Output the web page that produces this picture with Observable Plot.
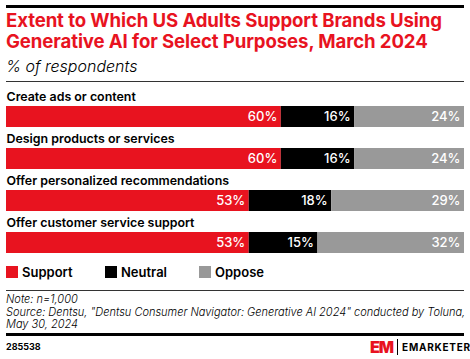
<!DOCTYPE html>
<html><head><meta charset="utf-8">
<script src="https://cdn.jsdelivr.net/npm/d3@7"></script>
<script src="https://cdn.jsdelivr.net/npm/@observablehq/plot@0.6"></script>
<style>
html,body{margin:0;padding:0;background:#fff;}
body{width:470px;height:359px;overflow:hidden;font-family:Inter,"Noto Sans",sans-serif;color:#000;position:relative;}
#top{position:absolute;left:6px;top:5px;width:458px;height:3px;background:#000;}
#title{position:absolute;left:6px;top:10px;width:462px;font-weight:700;font-size:18.6px;line-height:21px;color:#e8131f;letter-spacing:-0.1px;}
#sub{position:absolute;left:6px;top:56px;font-style:italic;font-size:16px;font-weight:300;}
#rule1{position:absolute;left:6px;top:81px;width:458px;height:1px;background:#333;}
#chart{position:absolute;left:0;top:84px;}
#legend{position:absolute;left:6px;top:264px;font-size:13px;font-weight:600;}
.li{position:absolute;top:0;white-space:nowrap;line-height:16px;}
.sw{display:inline-block;width:12px;height:12px;vertical-align:-1px;margin-right:4px;}
#rule2{position:absolute;left:6px;top:290px;width:458px;height:1px;background:#333;}
#notes{position:absolute;left:6px;top:293px;font-size:11px;font-style:italic;line-height:12.7px;font-weight:300;white-space:nowrap;letter-spacing:0px;}
#rule3{position:absolute;left:6px;top:333px;width:458px;height:3px;background:#000;}
#id{position:absolute;left:6px;top:341px;font-size:9px;font-weight:700;}
#logo{position:absolute;left:370px;top:339px;height:16px;white-space:nowrap;}
#em{display:inline-block;color:#e8131f;font-weight:900;font-size:16px;line-height:16px;letter-spacing:-1px;vertical-align:top;}
#sep{display:inline-block;width:1px;height:16px;background:#000;margin:0 4px 0 4px;vertical-align:top;}
#brand{display:inline-block;font-weight:700;font-size:10px;line-height:16px;letter-spacing:0.75px;vertical-align:top;}
</style></head>
<body>
<div id="top"></div>
<div id="title">Extent to Which US Adults Support Brands Using Generative AI for Select Purposes, March 2024</div>
<div id="sub">% of respondents</div>
<div id="rule1"></div>
<div id="chart"></div>
<div id="legend"></div>
<div id="rule2"></div>
<div id="notes">Note: n=1,000<br>Source: Dentsu, "Dentsu Consumer Navigator: Generative AI 2024" conducted by Toluna,<br>May 30, 2024</div>
<div id="rule3"></div>
<div id="id">285538</div>
<div id="logo"><span id="em">EM</span><span id="sep"></span><span id="brand">EMARKETER</span></div>
<script>
const categories = ["Create ads or content", "Design products or services", "Offer personalized recommendations", "Offer customer service support"];
const responses = ["Support", "Neutral", "Oppose"];
const support = [60, 60, 53, 53];
const neutral = [16, 16, 18, 15];
const oppose = [24, 24, 29, 32];
const colors = ["#e8131f", "#000000", "#999999"];

const series = [support, neutral, oppose];
const data = [];
categories.forEach((c, i) => responses.forEach((r, j) => data.push({cat: c, resp: r, value: series[j][i]})));

const chart = Plot.plot({
  width: 470,
  height: 174,
  marginLeft: 6,
  marginRight: 6,
  marginTop: 20,
  marginBottom: 4,
  x: {domain: [0, 100], axis: null},
  y: {domain: categories, axis: null, paddingInner: 0.5116, paddingOuter: 0},
  color: {domain: responses, range: colors},
  style: {fontFamily: "Inter, 'Noto Sans', sans-serif"},
  marks: [
    Plot.barX(data, Plot.stackX({x: "value", y: "cat", fill: "resp", order: responses})),
    Plot.text(data, Plot.stackX2({x: "value", y: "cat", z: "resp", order: responses, text: d => d.value + "%", textAnchor: "end", dx: -4, fill: "white", fontSize: 13, fontWeight: 500})),
    Plot.text(categories, {x: 0, y: d => d, text: d => d, textAnchor: "start", dy: -20, fontSize: 12.4, fontWeight: 600, fill: "black"})
  ]
});
document.getElementById("chart").appendChild(chart);

const legend = document.getElementById("legend");
const lx = [0, 99, 193];
responses.forEach((r, i) => {
  const el = document.createElement("div");
  el.className = "li";
  el.style.left = lx[i] + "px";
  el.innerHTML = `<span class="sw" style="background:${colors[i]}"></span>${r}`;
  legend.appendChild(el);
});
</script>
</body></html>
